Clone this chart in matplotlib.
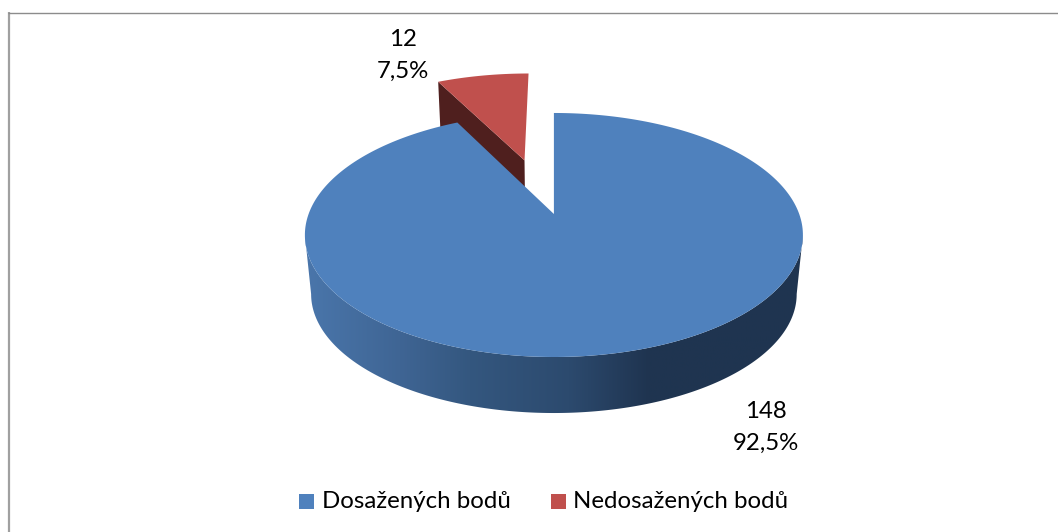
import numpy as np
import matplotlib
matplotlib.use('Agg')
import matplotlib.pyplot as plt
from matplotlib.colors import LinearSegmentedColormap
from matplotlib.patches import Polygon, Rectangle

plt.rcParams['font.family'] = ['Lato', 'DejaVu Sans']

categories = ['Dosažených bodů', 'Nedosažených bodů']
values = [148, 12]
colors = ['#4f81bd', '#c0504d']
wall_red = '#4f1f1e'
wall_pos = [0, 0.19, 0.33, 0.53, 0.69, 1]
wall_stops = ['#4a76ab', '#3f6594', '#34577f', '#2c4a6e', '#1f3450', '#1f3550']

# pie geometry, pixels
cx, cy = 553.9, 214
sx, sy = 245.3, 118.4
persp = 0.172
low_scale = 0.975
low_drop = 59.6
explode_red = 0.505
red_nudge = -0.012


def project(x, y, low=False):
    w = 1 + persp * y
    if low:
        return cx + low_scale * sx * x / w, cy + low_drop - low_scale * sy * y / w
    return cx + sx * x / w, cy - sy * y / w


def arc(a0, a1, ox=0.0, oy=0.0, low=False, n=300):
    t = np.linspace(a0, a1, n)
    return project(ox + np.sin(t), oy + np.cos(t), low)


total = sum(values)
fracs = [v / total for v in values]
blue_end = 2 * np.pi * fracs[0]

fig = plt.figure(figsize=(10.58, 5.32), dpi=100)
ax = fig.add_axes([0, 0, 1, 1])
ax.set_xlim(0, 1058)
ax.set_ylim(532, 0)
ax.axis('off')

# frame
ax.plot([8.5, 8.5], [12, 532], color='#a0a0a0', lw=1.6, solid_capstyle='butt')
ax.plot([8, 1058], [12.5, 12.5], color='#8c8c8c', lw=1.0, solid_capstyle='butt')

# red slice, exploded along its middle angle
mid = blue_end + np.pi * fracs[1]
ox, oy = explode_red * np.sin(mid) + red_nudge, explode_red * np.cos(mid)
rx, ry = arc(blue_end, 2 * np.pi, ox, oy)
apex = project(ox, oy)
apex_low = project(ox, oy, low=True)
corner_low = project(ox + np.sin(blue_end), oy + np.cos(blue_end), low=True)
ax.add_patch(Polygon([(rx[0], ry[0]), corner_low, apex_low, apex], color=wall_red, lw=0, zorder=2))
ax.add_patch(Polygon(np.r_[[apex], np.c_[rx, ry]], color=colors[1], lw=0, zorder=3))

# blue outer wall with horizontal gradient, between the widest points of the disc
t_edge = np.arccos(-persp)
ux, uy = arc(t_edge, 2 * np.pi - t_edge)
lx, ly = arc(t_edge, 2 * np.pi - t_edge, low=True)
wall = Polygon(np.r_[np.c_[ux, uy], np.c_[lx, ly][::-1]], fc='none', ec='none', zorder=4)
ax.add_patch(wall)
cmap = LinearSegmentedColormap.from_list('wall', list(zip(wall_pos, wall_stops)))
img = ax.imshow(np.linspace(0, 1, 256).reshape(1, -1), cmap=cmap, aspect='auto',
                extent=(ux.min(), ux.max(), 480, 200), zorder=4)
img.set_clip_path(wall)
ax.set_xlim(0, 1058)
ax.set_ylim(532, 0)

# blue top
bx, by = arc(0, blue_end)
ax.add_patch(Polygon(np.r_[[[cx, cy]], np.c_[bx, by]], color=colors[0], lw=0, zorder=5))

# data labels
label_pos = [(766, 427.5), (403, 55.5)]
for v, f, (tx, ty) in zip(values, fracs, label_pos):
    txt = f'{v}\n{f * 100:.1f}%'.replace('.', ',')
    ax.text(tx, ty, txt, ha='center', va='center', fontsize=17.3, color='black', linespacing=1.6, zorder=6)

# legend
leg_pos = [(299, 321.5), (551, 573)]
for name, c, (mx, tx) in zip(categories, colors, leg_pos):
    ax.add_patch(Rectangle((mx, 494), 15, 15, color=c, lw=0))
    ax.text(tx, 501, name, ha='left', va='center', fontsize=17.3, color='black')

fig.savefig('out.png', dpi=100)
